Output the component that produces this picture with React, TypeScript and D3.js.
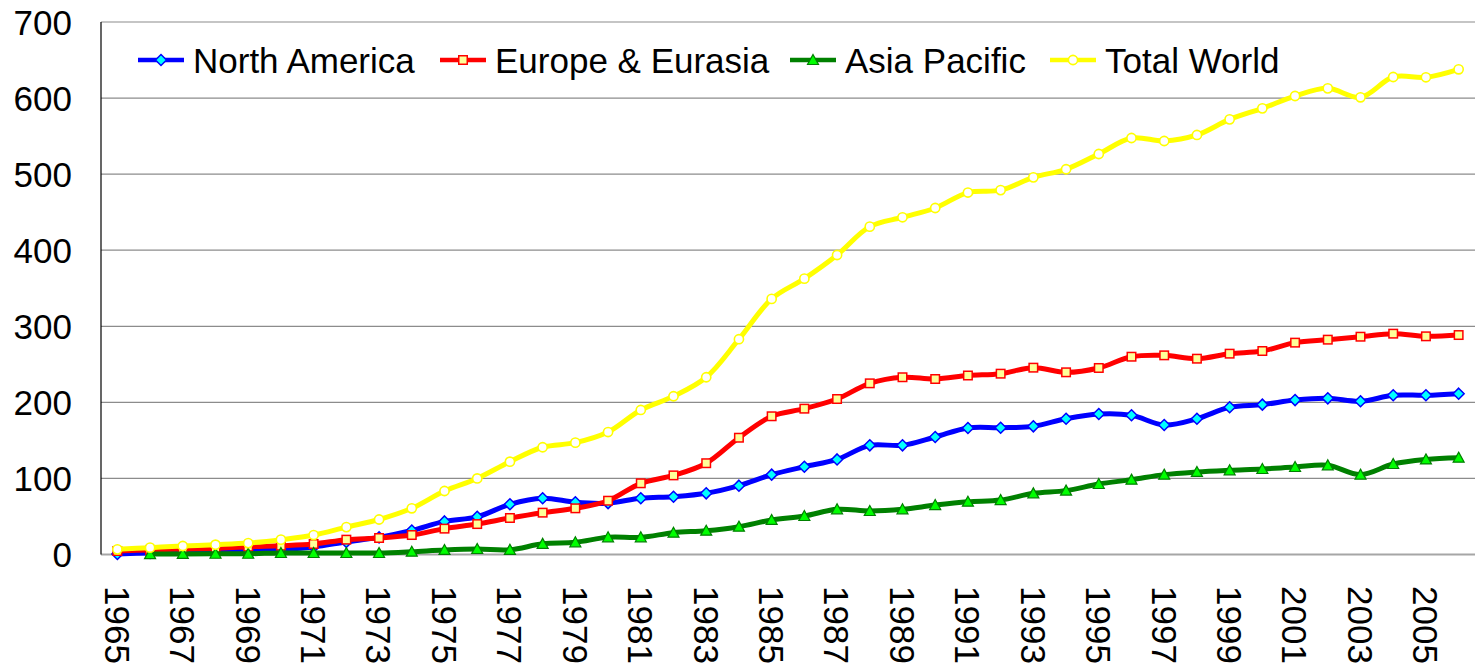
import React, { useLayoutEffect } from "react";
import * as d3 from "d3";

const years: number[] = d3.range(1965, 2007);

const northAmerica: (number | null)[] = [
  0.7, 2, 3, 3.7, 5, 6.8, 10, 16.5, 22.5, 31.5, 43.5, 49.5, 66, 74, 68.6, 67.5, 74, 76, 80.4, 90.5,
  105, 115.4, 125, 143.5, 143.5, 154.5, 166.3, 166.7, 168.5, 178.5, 184.7, 183, 170.2, 178.5, 193.5,
  197, 203, 205.3, 201.4, 209.3, 209.3, 211.4,
];

const europeEurasia: (number | null)[] = [
  4.6, 6, 7.2, 8.1, 10.3, 11.6, 13.8, 19.5, 21.7, 25.6, 34, 40, 48, 55, 60.7, 70.7, 93.6, 104, 120,
  153.5, 181.7, 191.7, 204.4, 225, 233, 230.7, 235.3, 237.7, 245.6, 239.5, 245.2, 260, 261.8, 257.4,
  264, 267.5, 278.5, 282.4, 286.3, 290.3, 286.8, 288.5,
];

const asiaPacific: (number | null)[] = [
  null, 0.5, 0.8, 1, 1, 2, 2, 2, 2, 3.7, 6, 7.2, 6.2, 14, 16, 22.6, 22.6, 28.7, 31.3, 36.6, 45.4, 50.6,
  59.4, 57.2, 59.4, 65, 69.4, 71.6, 80.4, 84, 92.7, 98.4, 105, 108.5, 110.7, 112.4, 115, 117.2, 105,
  119, 125, 127.3,
];

const totalWorld: (number | null)[] = [
  6.8, 9, 11.2, 12.9, 15, 19.5, 25.6, 36, 46, 60.7, 83.5, 100, 122, 141, 147, 161, 190, 208, 233, 283,
  336, 362.6, 393.7, 431, 443.3, 455.5, 475.8, 479, 495.8, 506.4, 526.5, 547.5, 543.6, 551.5, 572,
  586.5, 602.7, 612.8, 601, 627.7, 627.3, 637.8,
];

const seriesNames: string[] = ["North America", "Europe & Eurasia", "Asia Pacific", "Total World"];
const yTicks: number[] = [0, 100, 200, 300, 400, 500, 600, 700];
const xTickLabels: number[] = years.filter((y) => (y - 1965) % 2 === 0);

type MarkerKind = "diamond" | "square" | "triangle" | "circle";

const styles: { line: string; fill: string; stroke: string; marker: MarkerKind }[] = [
  { line: "#0000FF", fill: "#00FFFF", stroke: "#0000FF", marker: "diamond" },
  { line: "#FF0000", fill: "#FFFF99", stroke: "#FF0000", marker: "square" },
  { line: "#008000", fill: "#00FF00", stroke: "#008000", marker: "triangle" },
  { line: "#FFFF00", fill: "#FFFFFF", stroke: "#FFFF00", marker: "circle" },
];

const FONT = "'Liberation Sans', Arial, Helvetica, sans-serif";

function Marker({ kind, x, y, fill, stroke }: { kind: MarkerKind; x: number; y: number; fill: string; stroke: string }) {
  if (kind === "diamond") {
    const r = 5.5;
    return (
      <path
        d={`M${x},${y - r}L${x + r},${y}L${x},${y + r}L${x - r},${y}Z`}
        fill={fill}
        stroke={stroke}
        strokeWidth={1.5}
      />
    );
  }
  if (kind === "square") {
    const s = 8.5;
    return <rect x={x - s / 2} y={y - s / 2} width={s} height={s} fill={fill} stroke={stroke} strokeWidth={1.5} />;
  }
  if (kind === "triangle") {
    const w = 5.5;
    return (
      <path
        d={`M${x},${y - 5.5}L${x + w},${y + 4.5}L${x - w},${y + 4.5}Z`}
        fill={fill}
        stroke={stroke}
        strokeWidth={1.2}
      />
    );
  }
  return <circle cx={x} cy={y} r={4.6} fill={fill} stroke={stroke} strokeWidth={1.6} />;
}

export default function App() {
  useLayoutEffect(() => {
    document.body.style.margin = "0";
  }, []);

  const width = 1475;
  const height = 665;
  const left = 101;
  const right = 1475;
  const top = 22;
  const bottom = 554.5;

  const x = d3
    .scalePoint<number>()
    .domain(years)
    .range([left, right])
    .padding(0.5);
  const y = d3.scaleLinear().domain([0, 700]).range([bottom, top]);

  const data = [northAmerica, europeEurasia, asiaPacific, totalWorld];

  const lineGen = d3
    .line<number | null>()
    .defined((d) => d !== null)
    .x((_, i) => x(years[i]) as number)
    .y((d) => y(d as number))
    .curve(d3.curveCatmullRom.alpha(0.5));

  const legendX = [138, 440, 790, 1050];
  const legendY = 60;

  return (
    <svg
      width={width}
      height={height}
      style={{ display: "block", position: "absolute", left: 0, top: 0, background: "#fff" }}
      fontFamily={FONT}
    >
      {/* gridlines */}
      {yTicks.map((t) => (
        <line
          key={t}
          x1={left}
          x2={right}
          y1={y(t)}
          y2={y(t)}
          stroke={t === 0 ? "#a6a6a6" : "#8c8c8c"}
          strokeWidth={t === 0 ? 2 : 1.2}
        />
      ))}
      {/* left axis */}
      <line x1={left} x2={left} y1={top} y2={bottom} stroke="#000" strokeWidth={1.2} />
      {/* y tick labels */}
      {yTicks.map((t) => (
        <text key={t} x={72} y={y(t)} dy="0.36em" textAnchor="end" fontSize={35} fill="#000">
          {t}
        </text>
      ))}
      {/* x tick labels */}
      {xTickLabels.map((yr) => {
        const px = x(yr) as number;
        return (
          <text
            key={yr}
            transform={`translate(${px},586) rotate(90)`}
            dy="0.36em"
            textAnchor="start"
            fontSize={35}
            fill="#000"
          >
            {yr}
          </text>
        );
      })}
      {/* series */}
      {data.map((s, si) => (
        <g key={si}>
          <path d={lineGen(s) || ""} fill="none" stroke={styles[si].line} strokeWidth={5} strokeLinejoin="round" />
          {s.map((v, i) =>
            v === null ? null : (
              <Marker
                key={i}
                kind={styles[si].marker}
                x={x(years[i]) as number}
                y={y(v)}
                fill={styles[si].fill}
                stroke={styles[si].stroke}
              />
            )
          )}
        </g>
      ))}
      {/* legend */}
      {seriesNames.map((name, i) => (
        <g key={name}>
          <line
            x1={legendX[i]}
            x2={legendX[i] + 46}
            y1={legendY}
            y2={legendY}
            stroke={styles[i].line}
            strokeWidth={4.5}
          />
          <Marker kind={styles[i].marker} x={legendX[i] + 23} y={legendY} fill={styles[i].fill} stroke={styles[i].stroke} />
          <text x={legendX[i] + 55} y={legendY} dy="0.36em" fontSize={35} fill="#000">
            {name}
          </text>
        </g>
      ))}
    </svg>
  );
}
